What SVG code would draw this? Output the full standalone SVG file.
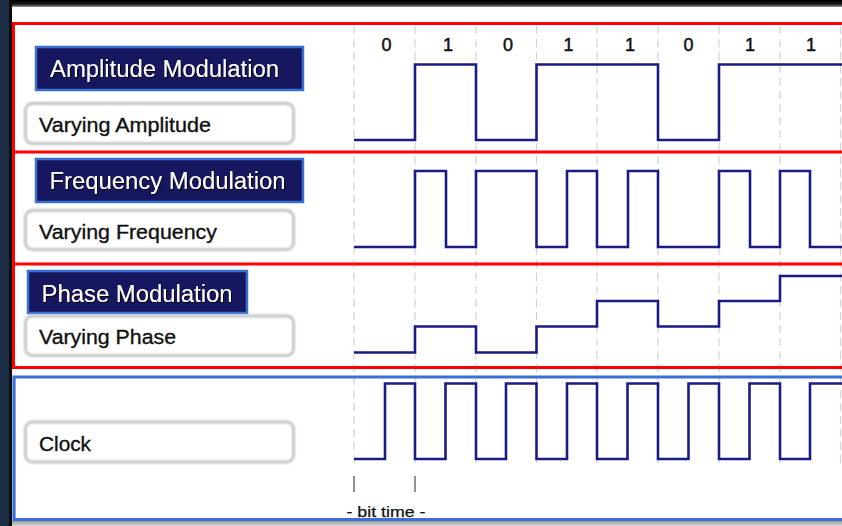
<svg xmlns="http://www.w3.org/2000/svg" width="842" height="526" viewBox="0 0 842 526">
  <defs>
    <style>
      .title-box { fill: #17175f; stroke: #3a6fd4; stroke-width: 2.5; }
      .title-text { font-family: "Liberation Sans", Arial, sans-serif; font-size: 23px; fill: #ffffff; filter: url(#textShadow); }
      .label-box { fill: #ffffff; stroke: #c2c2c2; stroke-width: 3; filter: url(#soft); }
      .label-text { font-family: "Liberation Sans", Arial, sans-serif; font-size: 20.5px; fill: #111111; stroke: #111111; stroke-width: 0.35; }
      .bit { font-family: "Liberation Sans", Arial, sans-serif; font-size: 18px; fill: #111111; stroke: #111111; stroke-width: 0.5; text-anchor: middle; }
      .grid { stroke: #d2d2d2; stroke-width: 1.2; stroke-dasharray: 8 5; fill: none; }
      .wave { fill: none; stroke: #1b1b85; stroke-width: 2.6; stroke-linejoin: miter; }
      .red { fill: none; stroke: #ff0000; stroke-width: 3; }
      .blue { fill: none; stroke: #3a6fd6; stroke-width: 3.2; }
      .tick { stroke: #777777; stroke-width: 1.6; }
      .small { font-family: "Liberation Sans", Arial, sans-serif; font-size: 15px; fill: #111111; stroke: #111111; stroke-width: 0.25; }
    </style>
    <filter id="soft" x="-5%" y="-20%" width="110%" height="140%">
      <feGaussianBlur stdDeviation="0.8"/>
    </filter>
    <filter id="textShadow" x="-5%" y="-20%" width="110%" height="140%">
      <feDropShadow dx="1" dy="1" stdDeviation="0.4" flood-color="#000000" flood-opacity="0.9"/>
    </filter>
    <linearGradient id="topBand" x1="0" y1="0" x2="0" y2="1">
      <stop offset="0" stop-color="#000000"/>
      <stop offset="0.6" stop-color="#1a1a1a"/>
      <stop offset="1" stop-color="#9a9a9a"/>
    </linearGradient>
    <linearGradient id="bottomBand" x1="0" y1="0" x2="0" y2="1">
      <stop offset="0" stop-color="#9a9a9a"/>
      <stop offset="1" stop-color="#d8d8d8"/>
    </linearGradient>
  </defs>

  <!-- page and surrounding frame -->
  <rect x="0" y="0" width="842" height="526" fill="#ffffff"/>
  <rect x="0" y="0" width="842" height="7" fill="url(#topBand)"/>
  <rect x="0" y="521" width="842" height="5" fill="url(#bottomBand)"/>
  <rect x="0" y="0" width="9" height="526" fill="#1a2d45"/>
  <rect x="9" y="0" width="3" height="526" fill="#0c0c0c"/>

  <!-- bit-period grid -->
  <g id="grid">
    <line class="grid" x1="354" y1="26" x2="354" y2="468"/>
    <line class="grid" x1="415" y1="26" x2="415" y2="468"/>
    <line class="grid" x1="476" y1="26" x2="476" y2="468"/>
    <line class="grid" x1="536.5" y1="26" x2="536.5" y2="468"/>
    <line class="grid" x1="597" y1="26" x2="597" y2="468"/>
    <line class="grid" x1="658" y1="26" x2="658" y2="468"/>
    <line class="grid" x1="719" y1="26" x2="719" y2="468"/>
    <line class="grid" x1="780" y1="26" x2="780" y2="468"/>
    <line class="grid" x1="840.5" y1="26" x2="840.5" y2="468"/>
  </g>

  <!-- section frames -->
  <g id="frames">
    <path class="red" d="M842 23.5 H13.5 V367.5 H842 M13.5 152 H842 M13.5 264 H842"/>
    <path class="blue" d="M842 377 H14 V519.5 H842"/>
  </g>

  <!-- data bits -->
  <g id="bits">
    <text class="bit" x="386.5" y="50.5">0</text>
    <text class="bit" x="448" y="50.5">1</text>
    <text class="bit" x="508" y="50.5">0</text>
    <text class="bit" x="568.5" y="50.5">1</text>
    <text class="bit" x="630" y="50.5">1</text>
    <text class="bit" x="688.5" y="50.5">0</text>
    <text class="bit" x="750" y="50.5">1</text>
    <text class="bit" x="811" y="50.5">1</text>
  </g>

  <!-- amplitude modulation -->
  <g id="am-title">
    <rect class="title-box" x="36" y="47" width="267" height="43"/>
    <text class="title-text" x="50" y="77" textLength="229" lengthAdjust="spacingAndGlyphs">Amplitude Modulation</text>
  </g>
  <g id="am-label">
    <rect class="label-box" x="25.5" y="103.5" width="268" height="40" rx="7"/>
    <text class="label-text" x="39" y="132" textLength="172" lengthAdjust="spacingAndGlyphs">Varying Amplitude</text>
  </g>
  <g id="am-wave">
    <path class="wave" d="M354 140 H415 V64.5 H476 V140 H536.5 V64.5 H658 V140 H719 V64.5 H842"/>
  </g>

  <!-- frequency modulation -->
  <g id="fm-title">
    <rect class="title-box" x="36" y="159" width="267" height="43"/>
    <text class="title-text" x="49.5" y="189" textLength="236" lengthAdjust="spacingAndGlyphs">Frequency Modulation</text>
  </g>
  <g id="fm-label">
    <rect class="label-box" x="25.5" y="210.5" width="268" height="39" rx="7"/>
    <text class="label-text" x="39" y="238.5" textLength="178" lengthAdjust="spacingAndGlyphs">Varying Frequency</text>
  </g>
  <g id="fm-wave">
    <path class="wave" d="M354 247 H415 V171 H446 V247 H476 V171 H536.5 V247 H567 V171 H597 V247 H628 V171 H658 V247 H719 V171 H750 V247 H780 V171 H810 V247 H842"/>
  </g>

  <!-- phase modulation -->
  <g id="pm-title">
    <rect class="title-box" x="28" y="271" width="219" height="42"/>
    <text class="title-text" x="41.5" y="301.5" textLength="191" lengthAdjust="spacingAndGlyphs">Phase Modulation</text>
  </g>
  <g id="pm-label">
    <rect class="label-box" x="25.5" y="316" width="268" height="39.5" rx="7"/>
    <text class="label-text" x="39" y="344" textLength="137" lengthAdjust="spacingAndGlyphs">Varying Phase</text>
  </g>
  <g id="pm-wave">
    <path class="wave" d="M354 352.5 H415 V326.5 H476 V352.5 H536.5 V326.5 H597 V301 H658 V326.5 H719 V301 H780 V276 H842"/>
  </g>

  <!-- clock -->
  <g id="clock-label">
    <rect class="label-box" x="25.5" y="422" width="268" height="40" rx="7"/>
    <text class="label-text" x="39" y="451" textLength="52" lengthAdjust="spacingAndGlyphs">Clock</text>
  </g>
  <g id="clock-wave">
    <path class="wave" d="M354 459 H385 V383.5 H415 V459 H445.5 V383.5 H476 V459 H506 V383.5 H536.5 V459 H567 V383.5 H597 V459 H627.5 V383.5 H658 V459 H688.5 V383.5 H719 V459 H749.5 V383.5 H780 V459 H810 V383.5 H842"/>
  </g>

  <!-- bit time marker -->
  <g id="bit-time">
    <line class="tick" x1="354" y1="476" x2="354" y2="492"/>
    <line class="tick" x1="415" y1="476" x2="415" y2="492"/>
    <text class="small" x="346.5" y="517" textLength="79" lengthAdjust="spacingAndGlyphs">- bit time -</text>
  </g>
</svg>
